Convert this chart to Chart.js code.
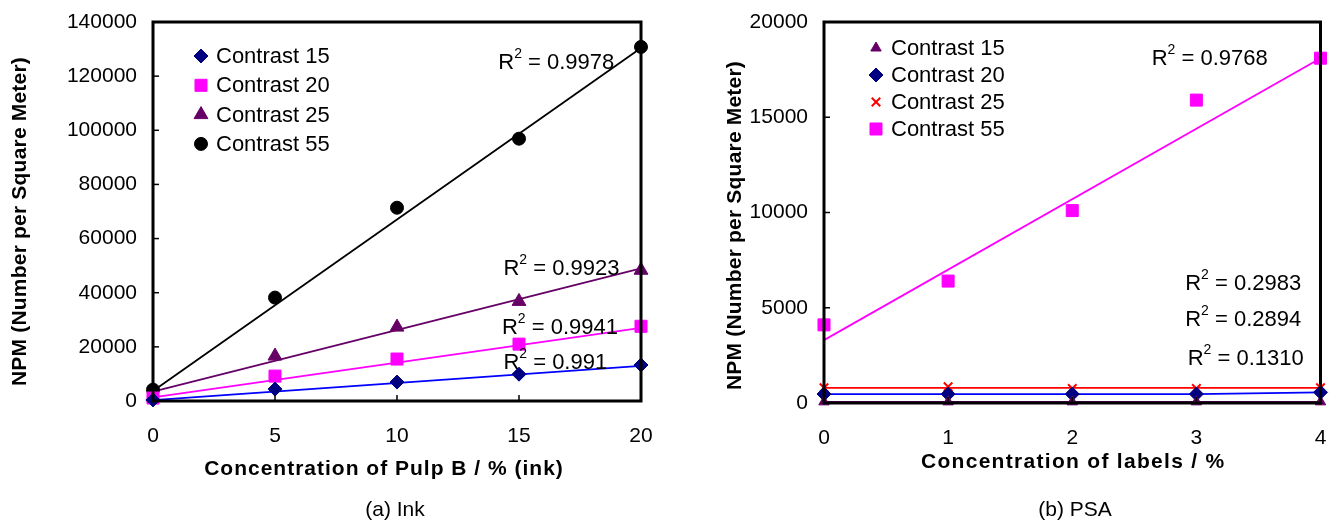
<!DOCTYPE html>
<html>
<head>
<meta charset="utf-8">
<script src="https://cdn.jsdelivr.net/npm/chart.js@4/dist/chart.umd.min.js"></script>
<style>
  body { margin: 0; background: #fff; width: 1330px; height: 524px; overflow: hidden; position: relative; font-family: 'Liberation Sans', Arial, sans-serif; }
  .box { position: absolute; top: 0; width: 665px; height: 524px; }
  .cap { position: absolute; top: 497px; font-size: 21px; color: #000; transform: translateX(-50%); white-space: nowrap; }
</style>
</head>
<body>
<div class="box" style="left:0"><canvas id="inkChart" width="665" height="524"></canvas></div>
<div class="box" style="left:665px"><canvas id="psaChart" width="665" height="524"></canvas></div>
<div class="cap" style="left:395px">(a) Ink</div>
<div class="cap" style="left:1075px">(b) PSA</div>
<script>
// (a) Ink
var inkX = [0, 5, 10, 15, 20];
var ink15 = [400, 4400, 7000, 9900, 13300];
var ink20 = [1100, 9200, 15500, 21000, 27600];
var ink25 = [1500, 16600, 27300, 36800, 48300];
var ink55 = [4200, 38200, 71400, 96900, 130800];
// trendline ends (x = 0 and x = 20)
var inkFitX = [0, 20];
var ink15Fit = [300, 13000];
var ink20Fit = [1300, 27000];
var ink25Fit = [3500, 49000];
var ink55Fit = [3700, 130400];
var inkR2 = ['0.991', '0.9941', '0.9923', '0.9978'];

// (b) PSA
var psaX = [0, 1, 2, 3, 4];
var psa15 = [60, 60, 60, 60, 60];
var psa20 = [470, 470, 470, 470, 560];
var psa25 = [800, 850, 760, 760, 800];
var psa55 = [4100, 6400, 10100, 15900, 18100];
var psaFitX = [0, 4];
var psa15Fit = [60, 60];
var psa25Fit = [790, 790];
var psa55Fit = [3300, 18100];
var psaR2 = ['0.9768', '0.2983', '0.2894', '0.1310'];

var FONT = "'Liberation Sans', Arial, sans-serif";
var Y_TITLE = 'NPM (Number per Square Meter)';

function pts(xs, ys) {
    return xs.map(function (x, i) { return { x: x, y: ys[i] }; });
}

function markers(label, xs, ys, style, color, radius) {
    return {
        label: label, data: pts(xs, ys), showLine: false,
        pointStyle: style, pointRadius: radius, pointHoverRadius: radius,
        backgroundColor: color, borderColor: color,
        pointBorderWidth: style === 'crossRot' ? 2 : 1, order: 1
    };
}

function fitLine(xs, ys, color) {
    return {
        label: '', data: pts(xs, ys), showLine: true, pointRadius: 0,
        borderColor: color, borderWidth: 1.8, fill: false, order: 2
    };
}

// frame round the plot plus the small inward tick marks
var framePlugin = {
    id: 'frame',
    afterDatasetsDraw: function (chart) {
        var a = chart.chartArea, ctx = chart.ctx;
        var xs = chart.scales.x, ys = chart.scales.y;
        ctx.save();
        ctx.strokeStyle = '#000';
        ctx.lineWidth = 1.5;
        ys.ticks.forEach(function (t) {
            var y = ys.getPixelForValue(t.value);
            ctx.beginPath(); ctx.moveTo(a.left, y); ctx.lineTo(a.left + 6, y); ctx.stroke();
        });
        xs.ticks.forEach(function (t) {
            var x = xs.getPixelForValue(t.value);
            ctx.beginPath(); ctx.moveTo(x, a.bottom); ctx.lineTo(x, a.bottom - 6); ctx.stroke();
        });
        ctx.lineWidth = 3;
        ctx.strokeRect(a.left, a.top, a.right - a.left, a.bottom - a.top);
        ctx.restore();
    }
};

// axis titles, drawn by hand so they can be spaced out like the original
var titlePlugin = {
    id: 'axisTitles',
    afterDraw: function (chart, args, opts) {
        var a = chart.chartArea, ctx = chart.ctx;
        ctx.save();
        ctx.fillStyle = '#000';
        ctx.font = 'bold 21px ' + FONT;
        ctx.textAlign = 'center';
        ctx.textBaseline = 'middle';
        ctx.letterSpacing = opts.xSpacing + 'px';
        ctx.fillText(opts.x, (a.left + a.right) / 2 + opts.xShift, opts.xTitleY);
        ctx.letterSpacing = opts.ySpacing + 'px';
        ctx.translate(opts.yTitleX, (a.top + a.bottom) / 2 + opts.yShift);
        ctx.rotate(-Math.PI / 2);
        ctx.fillText(opts.y, 0, 0);
        ctx.restore();
    }
};

// legend inside the plot, drawn by hand
var boxLegend = {
    id: 'boxLegend',
    afterDraw: function (chart, args, opts) {
        var a = chart.chartArea, ctx = chart.ctx;
        ctx.save();
        ctx.font = '22px ' + FONT;
        ctx.textBaseline = 'middle';
        var row = 0;
        opts.order.forEach(function (idx) {
            var ds = chart.data.datasets[idx];
            var x = a.left + opts.x, y = a.top + opts.y + row * opts.step;
            ctx.fillStyle = ds.backgroundColor;
            ctx.strokeStyle = ds.borderColor;
            ctx.lineWidth = ds.pointBorderWidth;
            Chart.helpers.drawPoint(ctx, { pointStyle: ds.pointStyle, radius: ds.pointRadius, rotation: 0, borderWidth: ds.pointBorderWidth }, x, y);
            ctx.fillStyle = '#000';
            ctx.fillText(ds.label, x + opts.gap, y + 1);
            row++;
        });
        ctx.restore();
    }
};

// R squared notes, placed in data units
var r2Plugin = {
    id: 'r2',
    afterDraw: function (chart, args, opts) {
        var ctx = chart.ctx, xs = chart.scales.x, ys = chart.scales.y;
        ctx.save();
        ctx.fillStyle = '#000';
        ctx.textBaseline = 'middle';
        opts.items.forEach(function (it) {
            var x = xs.getPixelForValue(it.at[0]);
            var y = ys.getPixelForValue(it.at[1]);
            ctx.font = '22px ' + FONT;
            ctx.fillText('R', x, y + 1);
            var w = ctx.measureText('R').width;
            ctx.font = '14px ' + FONT;
            ctx.fillText('2', x + w, y - 8);
            var w2 = ctx.measureText('2').width;
            ctx.font = '22px ' + FONT;
            ctx.fillText(' = ' + it.text, x + w + w2, y + 1);
        });
        ctx.restore();
    }
};

function plain(v) { return String(v); }

function axes(xMax, xStep, yMax, yStep, yWidth, xHeight) {
    return {
        x: {
            type: 'linear', min: 0, max: xMax,
            grid: { display: false, drawTicks: false }, border: { display: false },
            ticks: { stepSize: xStep, color: '#000', padding: 23, font: { family: FONT, size: 21 }, callback: plain },
            afterFit: function (s) { s.height = xHeight; s.paddingLeft = 0; s.paddingRight = 0; }
        },
        y: {
            type: 'linear', min: 0, max: yMax,
            grid: { display: false, drawTicks: false }, border: { display: false },
            ticks: { stepSize: yStep, color: '#000', padding: 16, font: { family: FONT, size: 21 }, callback: plain },
            afterFit: function (s) { s.width = yWidth; s.paddingTop = 0; s.paddingBottom = 0; }
        }
    };
}

var NAVY = '#000080', MAG = '#FF00FF', PURP = '#660066', BLUE = '#0000FF', RED = '#FF0000';

new Chart(document.getElementById('inkChart'), {
    type: 'scatter',
    data: {
        datasets: [
            markers('Contrast 15', inkX, ink15, 'rectRot', NAVY, 7),
            markers('Contrast 20', inkX, ink20, 'rect', MAG, 8.5),
            markers('Contrast 25', inkX, ink25, 'triangle', PURP, 8),
            markers('Contrast 55', inkX, ink55, 'circle', '#000', 6.5),
            fitLine(inkFitX, ink15Fit, BLUE),
            fitLine(inkFitX, ink20Fit, MAG),
            fitLine(inkFitX, ink25Fit, PURP),
            fitLine(inkFitX, ink55Fit, '#000')
        ]
    },
    options: {
        responsive: false, animation: false, clip: false,
        layout: { padding: { left: 5, top: 22, right: 24, bottom: 43 } },
        scales: axes(20, 5, 140000, 20000, 148, 80),
        plugins: {
            legend: { display: false }, tooltip: { enabled: false },
            axisTitles: { x: 'Concentration of Pulp B / % (ink)', xShift: -13, xTitleY: 469, xSpacing: 1,
                          y: Y_TITLE, yTitleX: 20, yShift: 10, ySpacing: 0.2 },
            boxLegend: { order: [0, 1, 2, 3], x: 48, y: 34, step: 29.3, gap: 15 },
            r2: { items: [
                { text: inkR2[3], at: [14.15, 125200] },
                { text: inkR2[2], at: [14.36, 49100] },
                { text: inkR2[1], at: [14.3, 27300] },
                { text: inkR2[0], at: [14.36, 14400] }
            ] }
        }
    },
    plugins: [framePlugin, titlePlugin, boxLegend, r2Plugin]
});

new Chart(document.getElementById('psaChart'), {
    type: 'scatter',
    data: {
        datasets: [
            markers('Contrast 15', psaX, psa15, 'triangle', PURP, 6),
            markers('Contrast 20', psaX, psa20, 'rectRot', NAVY, 7),
            markers('Contrast 25', psaX, psa25, 'crossRot', RED, 6),
            markers('Contrast 55', psaX, psa55, 'rect', MAG, 8.5),
            fitLine(psaFitX, psa15Fit, PURP),
            fitLine(psaX, psa20, BLUE),
            fitLine(psaFitX, psa25Fit, RED),
            fitLine(psaFitX, psa55Fit, MAG)
        ]
    },
    options: {
        responsive: false, animation: false, clip: false,
        layout: { padding: { left: 55, top: 22, right: 4, bottom: 47 } },
        scales: axes(4, 1, 20000, 5000, 104, 74),
        plugins: {
            legend: { display: false }, tooltip: { enabled: false },
            axisTitles: { x: 'Concentration of labels / %', xShift: 1, xTitleY: 462, xSpacing: 1.3,
                          y: Y_TITLE, yTitleX: 70, yShift: 13, ySpacing: 0.2 },
            boxLegend: { order: [0, 1, 2, 3], x: 52, y: 26, step: 27, gap: 15 },
            r2: { items: [
                { text: psaR2[0], at: [2.64, 18110] },
                { text: psaR2[1], at: [2.91, 6300] },
                { text: psaR2[2], at: [2.91, 4410] },
                { text: psaR2[3], at: [2.93, 2360] }
            ] }
        }
    },
    plugins: [framePlugin, titlePlugin, boxLegend, r2Plugin]
});
</script>
</body>
</html>
